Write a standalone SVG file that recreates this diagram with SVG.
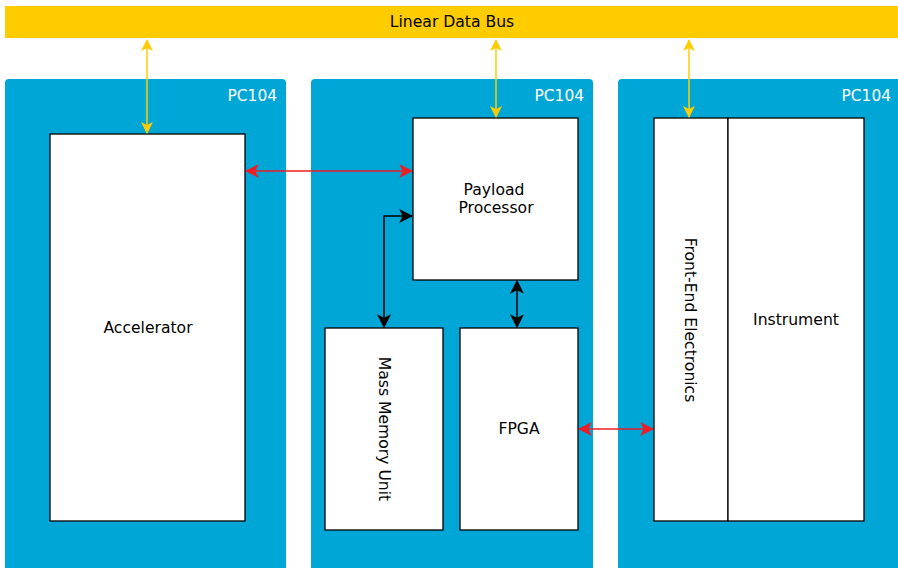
<svg xmlns="http://www.w3.org/2000/svg" width="898" height="568" viewBox="0 0 898 568">
<style>
.panel{fill:#00A6D6}
.box{fill:#fff;stroke:#000;stroke-width:1.3}
.t{font-family:"DejaVu Sans",sans-serif;font-size:15.6px;fill:#000;text-anchor:middle;dominant-baseline:central}
.pc{font-family:"DejaVu Sans",sans-serif;font-size:15.4px;fill:#fff;text-anchor:end}
.y{stroke:#FFCC00;stroke-width:1.5;fill:none}
.r{stroke:#EE1C25;stroke-width:1.5;fill:none}
.k{stroke:#000;stroke-width:1.5;fill:none}
</style>
<defs>
<marker id="ay" viewBox="0 0 12 12" refX="11" refY="6" markerWidth="12" markerHeight="12" markerUnits="userSpaceOnUse" orient="auto-start-reverse"><path d="M0,0 L12,6 L0,12 L3,6 z" fill="#FFCC00"/></marker>
<marker id="ar" viewBox="0 0 12 12" refX="11" refY="6" markerWidth="14" markerHeight="14" markerUnits="userSpaceOnUse" orient="auto-start-reverse"><path d="M0,0 L12,6 L0,12 L3,6 z" fill="#EE1C25"/></marker>
<marker id="ak" viewBox="0 0 12 12" refX="11" refY="6" markerWidth="14" markerHeight="14" markerUnits="userSpaceOnUse" orient="auto-start-reverse"><path d="M0,0 L12,6 L0,12 L3,6 z" fill="#000"/></marker>
</defs>
<g id="bus">
<rect x="5" y="6" width="893" height="32" fill="#FFCC00"/>
<text class="t" x="452" y="22">Linear Data Bus</text>
</g>
<g id="panel1">
<rect class="panel" x="5" y="79" width="281" height="500" rx="4"/>
<text class="pc" x="277" y="101">PC104</text>
</g>
<g id="panel2">
<rect class="panel" x="311" y="79" width="282" height="500" rx="4"/>
<text class="pc" x="584" y="101">PC104</text>
</g>
<g id="panel3">
<rect class="panel" x="618" y="79" width="290" height="500" rx="4"/>
<text class="pc" x="891" y="101">PC104</text>
</g>
<g id="accelerator">
<rect class="box" x="50" y="134" width="195" height="387"/>
<text class="t" x="148" y="328">Accelerator</text>
</g>
<g id="payload">
<rect class="box" x="413" y="118" width="165" height="162"/>
<text class="t" x="494" y="190">Payload</text>
<text class="t" x="496" y="208">Processor</text>
</g>
<g id="mmu">
<rect class="box" x="325" y="328" width="118" height="202"/>
<text class="t" transform="translate(384 429) rotate(90)">Mass Memory Unit</text>
</g>
<g id="fpga">
<rect class="box" x="460" y="328" width="118" height="202"/>
<text class="t" x="519" y="429">FPGA</text>
</g>
<g id="fee">
<rect class="box" x="654" y="118" width="74" height="403"/>
<text class="t" transform="translate(690 320) rotate(90)">Front-End Electronics</text>
</g>
<g id="instrument">
<rect class="box" x="728" y="118" width="136" height="403"/>
<text class="t" x="796" y="320">Instrument</text>
</g>
<g id="connectors">
<line class="y" x1="147" y1="40" x2="147" y2="133" marker-start="url(#ay)" marker-end="url(#ay)"/>
<line class="y" x1="496" y1="40" x2="496" y2="117" marker-start="url(#ay)" marker-end="url(#ay)"/>
<line class="y" x1="689" y1="40" x2="689" y2="117" marker-start="url(#ay)" marker-end="url(#ay)"/>
<line class="r" x1="246" y1="171" x2="412" y2="171" marker-start="url(#ar)" marker-end="url(#ar)"/>
<line class="r" x1="579" y1="429" x2="653" y2="429" marker-start="url(#ar)" marker-end="url(#ar)"/>
<polyline class="k" points="412,216 384,216 384,327" marker-start="url(#ak)" marker-end="url(#ak)"/>
<line class="k" x1="517" y1="281" x2="517" y2="327" marker-start="url(#ak)" marker-end="url(#ak)"/>
</g>
</svg>
